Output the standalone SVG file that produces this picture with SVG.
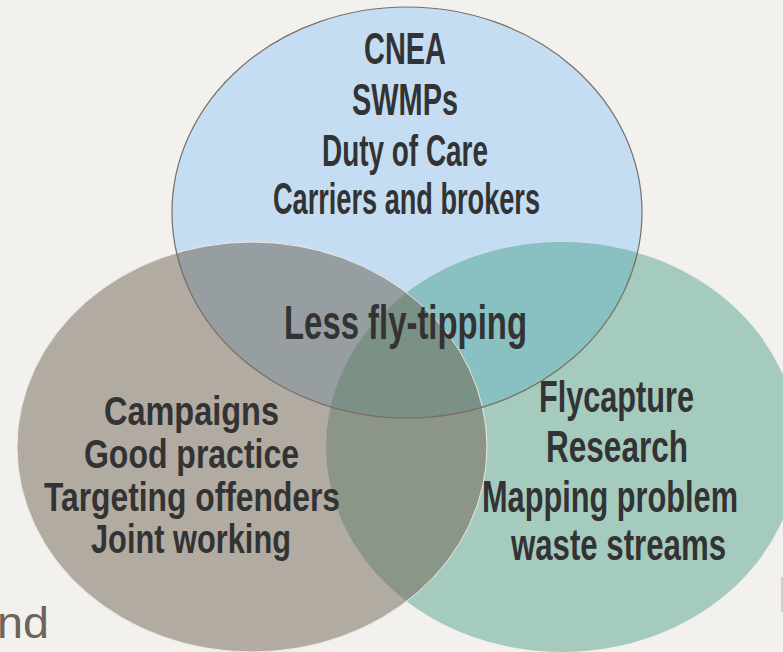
<svg xmlns="http://www.w3.org/2000/svg" width="783" height="652" viewBox="0 0 783 652">
<style>
.lbl{font-family:"Liberation Sans",Arial,sans-serif;font-weight:bold;fill:#333333;}
.bgtxt{font-family:"Liberation Sans",Arial,sans-serif;fill:#6e6457;}
</style>
<defs>
<clipPath id="cTop"><ellipse cx="407" cy="212.5" rx="235" ry="205.5"/></clipPath>
<clipPath id="cLeft"><ellipse cx="252" cy="447" rx="235" ry="205"/></clipPath>
<clipPath id="cRight"><ellipse cx="562" cy="447" rx="236" ry="205"/></clipPath>
</defs>
<g id="background">
<rect x="0" y="0" width="783" height="652" fill="#f2f1ee"/>
<text class="bgtxt" x="-3" y="638" font-size="44" textLength="52" lengthAdjust="spacingAndGlyphs">nd</text>
<rect x="781" y="577" width="2" height="35" fill="#d2cec7"/>
</g>
<g id="node-top-shape"><ellipse cx="407" cy="212.5" rx="235" ry="205.5" fill="#c5ddf3"/></g>
<g id="node-left-shape"><ellipse cx="252" cy="447" rx="235" ry="205" fill="#b1aba2"/></g>
<g id="node-right-shape"><ellipse cx="562" cy="447" rx="236" ry="205" fill="#a5cbbf"/></g>
<g id="overlaps">
<g clip-path="url(#cTop)"><ellipse cx="252" cy="447" rx="235" ry="205" fill="#979ea2"/></g>
<g clip-path="url(#cTop)"><ellipse cx="562" cy="447" rx="236" ry="205" fill="#89c0c2"/></g>
<g clip-path="url(#cLeft)"><ellipse cx="562" cy="447" rx="236" ry="205" fill="#8b9689"/></g>
<g clip-path="url(#cTop)"><g clip-path="url(#cLeft)"><ellipse cx="562" cy="447" rx="236" ry="205" fill="#7b9185"/></g></g>
</g>
<g id="outlines" fill="none">
<ellipse cx="252" cy="447" rx="235" ry="205" stroke="#eeebe4" stroke-width="1"/>
<ellipse cx="407" cy="212.5" rx="235" ry="205.5" stroke="#7a6f63" stroke-width="1.2"/>
</g>
<g id="node-top-label" class="lbl" font-size="45">
<text class="lbl" x="364" y="64" textLength="82" lengthAdjust="spacingAndGlyphs">CNEA</text>
<text class="lbl" x="352" y="115" textLength="106" lengthAdjust="spacingAndGlyphs">SWMPs</text>
<text class="lbl" x="322" y="166" textLength="166" lengthAdjust="spacingAndGlyphs">Duty of Care</text>
<text class="lbl" x="273" y="214" textLength="267" lengthAdjust="spacingAndGlyphs">Carriers and brokers</text>
</g>
<g id="node-center-label" class="lbl" font-size="49">
<text class="lbl" x="284" y="339" textLength="243" lengthAdjust="spacingAndGlyphs">Less fly-tipping</text>
</g>
<g id="node-left-label" class="lbl" font-size="41">
<text class="lbl" x="104" y="425" textLength="175" lengthAdjust="spacingAndGlyphs">Campaigns</text>
<text class="lbl" x="84" y="468" textLength="215" lengthAdjust="spacingAndGlyphs">Good practice</text>
<text class="lbl" x="44" y="511" textLength="296" lengthAdjust="spacingAndGlyphs">Targeting offenders</text>
<text class="lbl" x="91" y="553" textLength="200" lengthAdjust="spacingAndGlyphs">Joint working</text>
</g>
<g id="node-right-label" class="lbl" font-size="44">
<text class="lbl" x="539" y="412" textLength="155" lengthAdjust="spacingAndGlyphs">Flycapture</text>
<text class="lbl" x="546" y="462" textLength="142" lengthAdjust="spacingAndGlyphs">Research</text>
<text class="lbl" x="482" y="512" textLength="256" lengthAdjust="spacingAndGlyphs">Mapping problem</text>
<text class="lbl" x="511" y="560" textLength="215" lengthAdjust="spacingAndGlyphs">waste streams</text>
</g>
</svg>
